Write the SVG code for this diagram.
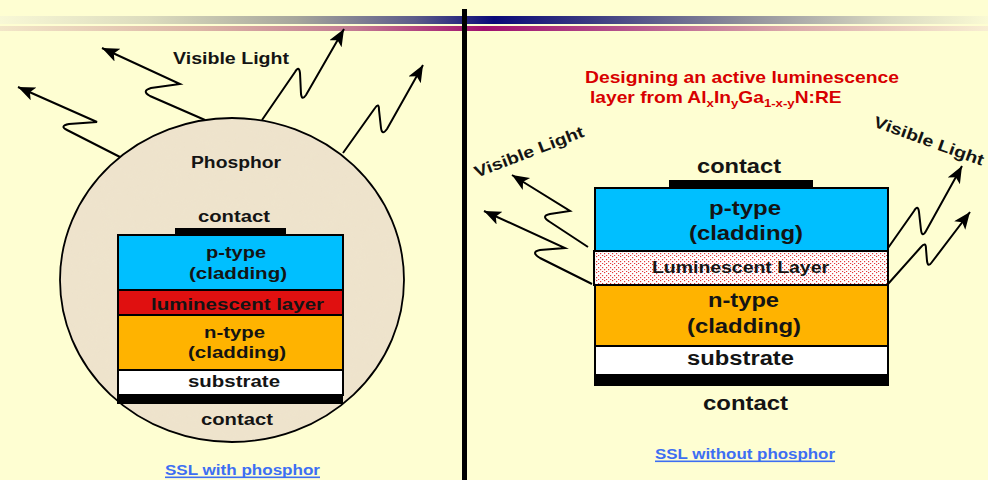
<svg xmlns="http://www.w3.org/2000/svg" width="988" height="480" viewBox="0 0 988 480">
  <defs>
    <linearGradient id="bandNavy" x1="0" y1="0" x2="988" y2="0" gradientUnits="userSpaceOnUse">
      <stop offset="0" stop-color="#F8F8D6"/>
      <stop offset="0.15" stop-color="#DCDCBE"/>
      <stop offset="0.3" stop-color="#A6A69C"/>
      <stop offset="0.42" stop-color="#5C5C8A"/>
      <stop offset="0.5" stop-color="#0A0A78"/>
      <stop offset="0.6" stop-color="#3C3C82"/>
      <stop offset="0.75" stop-color="#8E8E9A"/>
      <stop offset="0.9" stop-color="#DADAC2"/>
      <stop offset="1" stop-color="#FAFAD4"/>
    </linearGradient>
    <linearGradient id="bandMagenta" x1="0" y1="0" x2="988" y2="0" gradientUnits="userSpaceOnUse">
      <stop offset="0" stop-color="#F2E6C8"/>
      <stop offset="0.2" stop-color="#DCB6A6"/>
      <stop offset="0.36" stop-color="#C27A92"/>
      <stop offset="0.49" stop-color="#A0106E"/>
      <stop offset="0.62" stop-color="#B24E8A"/>
      <stop offset="0.8" stop-color="#DAAAAA"/>
      <stop offset="1" stop-color="#F8EED2"/>
    </linearGradient>
    <pattern id="dots" width="8" height="8" patternUnits="userSpaceOnUse">
      <rect width="8" height="8" fill="#FFFFFF"/>
      <rect x="0" y="1" width="1.2" height="1.2" fill="#E23A3A"/>
      <rect x="4" y="0" width="1.2" height="1.2" fill="#E23A3A"/>
      <rect x="2" y="3" width="1.2" height="1.2" fill="#E23A3A"/>
      <rect x="6" y="3" width="1.2" height="1.2" fill="#E23A3A"/>
      <rect x="0" y="5" width="1.2" height="1.2" fill="#E23A3A"/>
      <rect x="4" y="5" width="1.2" height="1.2" fill="#E23A3A"/>
      <rect x="2" y="7" width="1.2" height="1.2" fill="#E23A3A"/>
      <rect x="6" y="7" width="1.2" height="1.2" fill="#E23A3A"/>
    </pattern>
    <filter id="grain" x="0" y="0" width="100%" height="100%">
      <feTurbulence type="fractalNoise" baseFrequency="0.06" numOctaves="3" seed="4"/>
      <feColorMatrix type="matrix" values="0 0 0 0 0.86  0 0 0 0 0.78  0 0 0 0 0.62  0 0 0 0.9 -0.35"/>
      <feComposite in2="SourceGraphic" operator="in"/>
    </filter>
    <marker id="ah" markerUnits="userSpaceOnUse" markerWidth="20" markerHeight="16" refX="17" refY="7" orient="auto">
      <path d="M0,0 L17,7 L0,14 L4,7 z" fill="#000"/>
    </marker>
    <style>
      .t { font-family: "Liberation Sans", Arial, sans-serif; font-weight: bold; fill: #141414; text-anchor: middle; }
      .s17 { font-size: 17px; }
      .s16 { font-size: 16px; }
      .s20 { font-size: 20px; }
      .red { font-family: "Liberation Sans", Arial, sans-serif; font-weight: bold; font-size: 16px; fill: #D80000; }
      .cap { font-family: "Liberation Sans", Arial, sans-serif; font-weight: bold; font-size: 14px; fill: #3D6EF2; text-anchor: middle; }
      .ray { fill: none; stroke: #000; stroke-width: 2; stroke-linejoin: miter; marker-end: url(#ah); }
      .edge { stroke: #000; stroke-width: 2; }
    </style>
  </defs>

  <!-- page background and header bands -->
  <rect width="988" height="480" fill="#FEFED2"/>
  <rect x="0" y="16" width="988" height="8" fill="url(#bandNavy)"/>
  <rect x="0" y="26" width="988" height="5" fill="url(#bandMagenta)"/>
  <rect x="462" y="9" width="5" height="471" fill="#000"/>

  <!-- left: device inside phosphor dome -->
  <g id="phosphor">
    <ellipse cx="232" cy="280" rx="172" ry="162" fill="#EEE3CC"/>
    <ellipse cx="232" cy="280" rx="172" ry="162" fill="#EEE3CC" filter="url(#grain)" opacity="0.6"/>
    <ellipse cx="232" cy="280" rx="172" ry="162" fill="none" stroke="#000" stroke-width="1.8"/>
    <text class="t s16" x="236" y="168" textLength="90" lengthAdjust="spacingAndGlyphs">Phosphor</text>
  </g>

  <g id="left-contact-top">
    <rect x="175" y="228" width="111" height="8" fill="#000"/>
    <text class="t s17" x="234" y="222" textLength="72" lengthAdjust="spacingAndGlyphs">contact</text>
  </g>
  <g id="left-p-type">
    <rect x="118" y="235" width="225" height="55" fill="#00BFFF" class="edge"/>
    <text class="t s17" x="236" y="258" textLength="60" lengthAdjust="spacingAndGlyphs">p-type</text>
    <text class="t s17" x="238" y="279" textLength="98" lengthAdjust="spacingAndGlyphs">(cladding)</text>
  </g>
  <g id="left-luminescent">
    <rect x="118" y="290" width="225" height="25" fill="#E01010" class="edge"/>
    <text class="t s17" x="237.5" y="310" textLength="173" lengthAdjust="spacingAndGlyphs">luminescent layer</text>
  </g>
  <g id="left-n-type">
    <rect x="118" y="315" width="225" height="55" fill="#FFB300" class="edge"/>
    <text class="t s17" x="234.5" y="338" textLength="61" lengthAdjust="spacingAndGlyphs">n-type</text>
    <text class="t s17" x="237" y="358" textLength="98" lengthAdjust="spacingAndGlyphs">(cladding)</text>
  </g>
  <g id="left-substrate">
    <rect x="118" y="370" width="225" height="25" fill="#FFFFFF" class="edge"/>
    <text class="t s17" x="234" y="387" textLength="92" lengthAdjust="spacingAndGlyphs">substrate</text>
  </g>
  <g id="left-contact-bottom">
    <rect x="117" y="395" width="226" height="9" fill="#000"/>
    <text class="t s17" x="237" y="425" textLength="72" lengthAdjust="spacingAndGlyphs">contact</text>
  </g>
  <g id="left-label">
    <text class="t s16" x="231" y="64" textLength="116" lengthAdjust="spacingAndGlyphs">Visible Light</text>
  </g>

  <!-- right: device with luminescent active layer -->
  <g id="right-title">
    <text class="red" x="585" y="83" textLength="314" lengthAdjust="spacingAndGlyphs">Designing an active luminescence</text>
    <g transform="translate(590,103) scale(1.2,1)">
      <text class="red" x="0" y="0">layer from Al<tspan font-size="11" dy="4">x</tspan><tspan dy="-4">In</tspan><tspan font-size="11" dy="4">y</tspan><tspan dy="-4">Ga</tspan><tspan font-size="11" dy="4">1-x-y</tspan><tspan dy="-4">N:RE</tspan></text>
    </g>
  </g>
  <g id="right-contact-top">
    <rect x="669" y="180" width="144" height="8" fill="#000"/>
    <text class="t s20" x="739" y="173" textLength="84" lengthAdjust="spacingAndGlyphs">contact</text>
  </g>
  <g id="right-p-type">
    <rect x="595" y="188" width="293" height="63" fill="#00BFFF" class="edge"/>
    <text class="t s20" x="745" y="215" textLength="72" lengthAdjust="spacingAndGlyphs">p-type</text>
    <text class="t s20" x="746" y="240" textLength="114" lengthAdjust="spacingAndGlyphs">(cladding)</text>
  </g>
  <g id="right-luminescent">
    <rect x="594" y="251" width="294" height="34" fill="url(#dots)" class="edge"/>
    <text class="t s16" x="740.5" y="273" textLength="177" lengthAdjust="spacingAndGlyphs">Luminescent Layer</text>
  </g>
  <g id="right-n-type">
    <rect x="595" y="285" width="293" height="61" fill="#FFB300" class="edge"/>
    <text class="t s20" x="743.5" y="307" textLength="71" lengthAdjust="spacingAndGlyphs">n-type</text>
    <text class="t s20" x="744" y="333" textLength="114" lengthAdjust="spacingAndGlyphs">(cladding)</text>
  </g>
  <g id="right-substrate">
    <rect x="595" y="346" width="293" height="29" fill="#FFFFFF" class="edge"/>
    <text class="t s20" x="740.5" y="365" textLength="107" lengthAdjust="spacingAndGlyphs">substrate</text>
  </g>
  <g id="right-contact-bottom">
    <rect x="594" y="375" width="295" height="11" fill="#000"/>
    <text class="t s20" x="745.5" y="410" textLength="85" lengthAdjust="spacingAndGlyphs">contact</text>
  </g>
  <g id="right-labels">
    <text class="t s16" x="531" y="157" transform="rotate(-21 531 157)" textLength="116" lengthAdjust="spacingAndGlyphs">Visible Light</text>
    <text class="t s16" x="927" y="146" transform="rotate(20 927 146)" textLength="116" lengthAdjust="spacingAndGlyphs">Visible Light</text>
  </g>

  <!-- emitted light rays -->
  <g id="connectors">
    <path class="ray" d="M205,120 L150,96 Q141,91 151,88 L180,84 L102,48"/>
    <path class="ray" d="M120,157 L67,130 Q59,126 69,124 L97,122 L18,87"/>
    <path class="ray" d="M262,120 L295,72 Q299,65 300,73 L301,94 Q302,101 306,95 L344,29"/>
    <path class="ray" d="M343,153 L375,108 Q379,102 379,110 L381,128 Q382,136 387,129 L423,65"/>
    <path class="ray" d="M588,247 L550,222 Q540,216 550,214 L570,211 L512,175"/>
    <path class="ray" d="M592,284 L540,258 Q530,252 540,250 L565,248 L484,211"/>
    <path class="ray" d="M888,248 L914,211 Q918,204 919,212 L921,230 Q922,238 926,231 L962,166"/>
    <path class="ray" d="M888,284 L921,247 Q926,241 926,249 L927,261 Q928,268 932,262 L970,212"/>
  </g>

  <!-- captions -->
  <g id="captions">
    <text class="cap" x="242.5" y="475" textLength="155" lengthAdjust="spacingAndGlyphs">SSL with phosphor</text>
    <rect x="165" y="476.5" width="155" height="1.6" fill="#3D6EF2"/>
    <text class="cap" x="745" y="459" textLength="180" lengthAdjust="spacingAndGlyphs">SSL without phosphor</text>
    <rect x="655" y="460.5" width="180" height="1.6" fill="#3D6EF2"/>
  </g>
</svg>
